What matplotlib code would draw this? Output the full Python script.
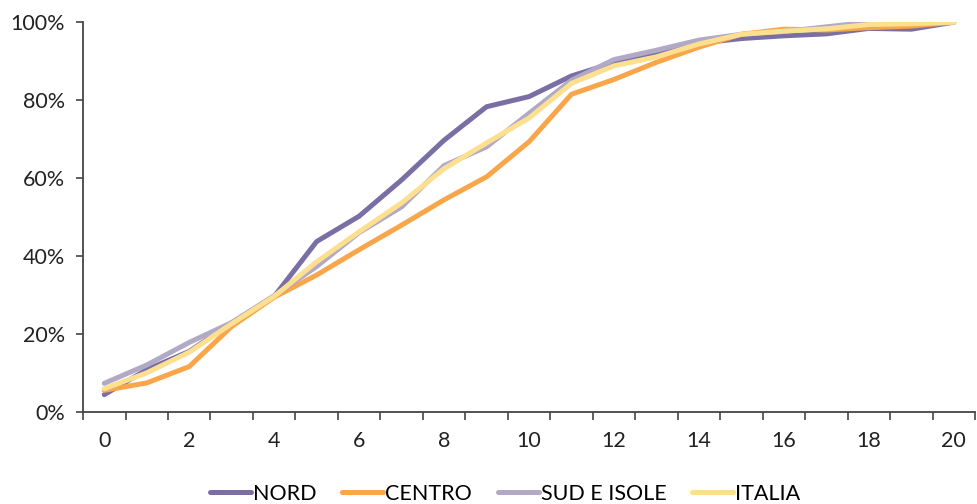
import matplotlib
matplotlib.use("Agg")
import matplotlib.pyplot as plt
from matplotlib.ticker import FixedLocator, FuncFormatter

categories = list(range(21))
nord = [4.4, 10.8, 15.5, 22.8, 29.6, 43.7, 50.2, 59.5, 69.7, 78.3, 80.9, 86.2, 89.6, 92.0, 94.6, 95.8, 96.5, 97.0, 98.4, 98.2, 100.0]
centro = [5.5, 7.4, 11.6, 21.9, 29.4, 35.1, 41.6, 47.9, 54.4, 60.3, 69.3, 81.5, 85.3, 89.7, 93.6, 96.9, 98.2, 98.0, 98.6, 99.0, 100.0]
sud = [7.3, 12.0, 17.8, 22.9, 29.8, 37.3, 46.0, 52.6, 63.2, 68.0, 76.6, 85.1, 90.4, 92.8, 95.4, 96.9, 97.6, 98.8, 100.0, 100.0, 100.0]
italia = [5.9, 10.0, 15.3, 22.6, 29.6, 38.5, 46.2, 53.6, 62.4, 69.0, 75.4, 84.3, 88.8, 91.1, 94.4, 96.9, 97.7, 98.3, 99.4, 99.6, 100.0]
series_names = ["NORD", "CENTRO", "SUD E ISOLE", "ITALIA"]
colors = ["#7a6fa5", "#f9a54a", "#b1a9c6", "#fde08f"]
x_labels = [str(c) if c % 2 == 0 else "" for c in categories]

plt.rcParams['font.family'] = ['Lato', 'DejaVu Sans']

fig = plt.figure(figsize=(9.77, 5.04), dpi=100)
ax = fig.add_axes([0.085, 0.183, 0.913, 0.773])

for name, vals, col in zip(series_names, [nord, centro, sud, italia], colors):
    ax.plot(categories, vals, color=col, lw=3.6, label=name, solid_capstyle='round', solid_joinstyle='round')

ax.set_xlim(-0.5, 20.5)
ax.set_ylim(0, 100)
ax.yaxis.set_major_locator(FixedLocator([0, 20, 40, 60, 80, 100]))
ax.yaxis.set_major_formatter(FuncFormatter(lambda v, p: f"{int(v)}%"))
ax.set_xticks(categories)
ax.set_xticklabels(x_labels)
ax.xaxis.set_minor_locator(FixedLocator([c - 0.5 for c in categories] + [20.5]))
ax.tick_params(axis='x', which='major', length=0, pad=14, labelsize=15.5, colors='#222222')
ax.tick_params(axis='x', which='minor', length=6, width=1.2, color='#444444', direction='out')
ax.tick_params(axis='y', length=5, width=1.2, color='#444444', labelsize=15.5, pad=8, labelcolor='#222222')

for s in ['top', 'right']:
    ax.spines[s].set_visible(False)
for s in ['left', 'bottom']:
    ax.spines[s].set_color('#444444')
    ax.spines[s].set_linewidth(1.3)

leg = fig.legend(loc='center', bbox_to_anchor=(0.517, 0.02), ncol=4, frameon=False,
                 fontsize=15.5, handlelength=1.9, handletextpad=0.1, columnspacing=1.2)
for line in leg.get_lines():
    line.set_linewidth(3.6)

fig.savefig("out.png", dpi=100)
